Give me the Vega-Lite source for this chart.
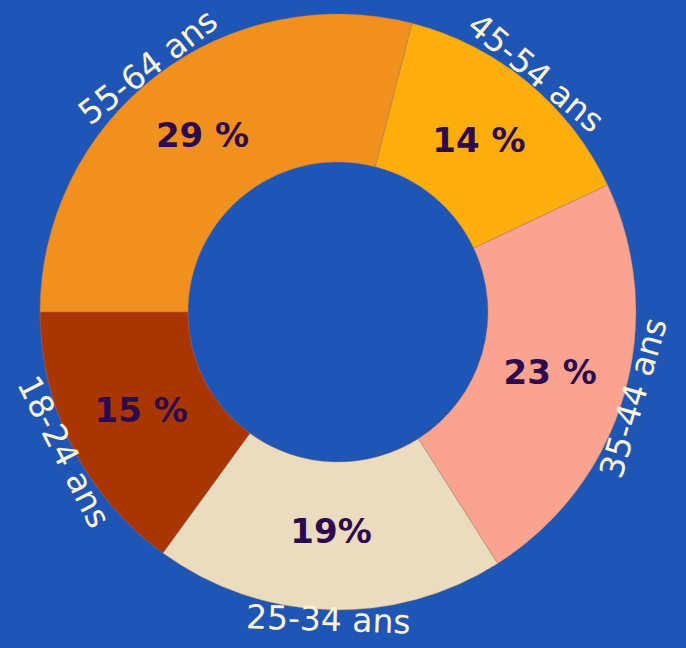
{
  "$schema": "https://vega.github.io/schema/vega-lite/v6.json",
  "width": 676,
  "height": 624,
  "autosize": {"type": "none"},
  "padding": {"left": 0, "top": 0, "right": 10, "bottom": 24},
  "background": "#1F56B5",
  "view": {"stroke": null},
  "data": {"values": [
    {"age": "55-64 ans", "pct": 29, "label": "29 %", "order": 1},
    {"age": "45-54 ans", "pct": 14, "label": "14 %", "order": 2},
    {"age": "35-44 ans", "pct": 23, "label": "23 %", "order": 3},
    {"age": "25-34 ans", "pct": 19, "label": "19%", "order": 4},
    {"age": "18-24 ans", "pct": 15, "label": "15 %", "order": 5}
  ]},
  "transform": [
    {"window": [{"op": "sum", "field": "pct", "as": "cum"}], "sort": [{"field": "order"}]},
    {"calculate": "-90 + 3.6 * (datum.cum - datum.pct / 2)", "as": "mid"},
    {"calculate": "datum.mid > 90 ? datum.mid - 180 : datum.mid", "as": "rot"}
  ],
  "encoding": {
    "theta": {"field": "pct", "type": "quantitative", "stack": true, "scale": {"range": [-1.5708, 4.7124]}},
    "order": {"field": "order", "type": "quantitative"}
  },
  "layer": [
    {
      "mark": {"type": "arc", "outerRadius": 298, "innerRadius": 150, "stroke": "#b07a5a", "strokeWidth": 0.4},
      "encoding": {
        "color": {
          "field": "age", "type": "nominal", "legend": null,
          "scale": {
            "domain": ["55-64 ans", "45-54 ans", "35-44 ans", "25-34 ans", "18-24 ans"],
            "range": ["#F0901F", "#FDAD0C", "#F9A390", "#EBDCBF", "#A93502"]
          }
        }
      }
    },
    {
      "mark": {"type": "text", "radius": 221, "font": "DejaVu Sans", "fontWeight": "bold", "fontSize": 34, "fill": "#2D0A4E", "baseline": "middle", "align": "center"},
      "encoding": {"text": {"field": "label", "type": "nominal"}}
    },
    {
      "mark": {"type": "text", "radius": 309, "font": "DejaVu Sans", "fontWeight": "normal", "fontSize": 33, "fill": "#FFF3D4", "baseline": "middle", "align": "center"},
      "encoding": {
        "text": {"field": "age", "type": "nominal"},
        "angle": {"field": "rot", "type": "quantitative", "scale": null}
      }
    }
  ]
}
